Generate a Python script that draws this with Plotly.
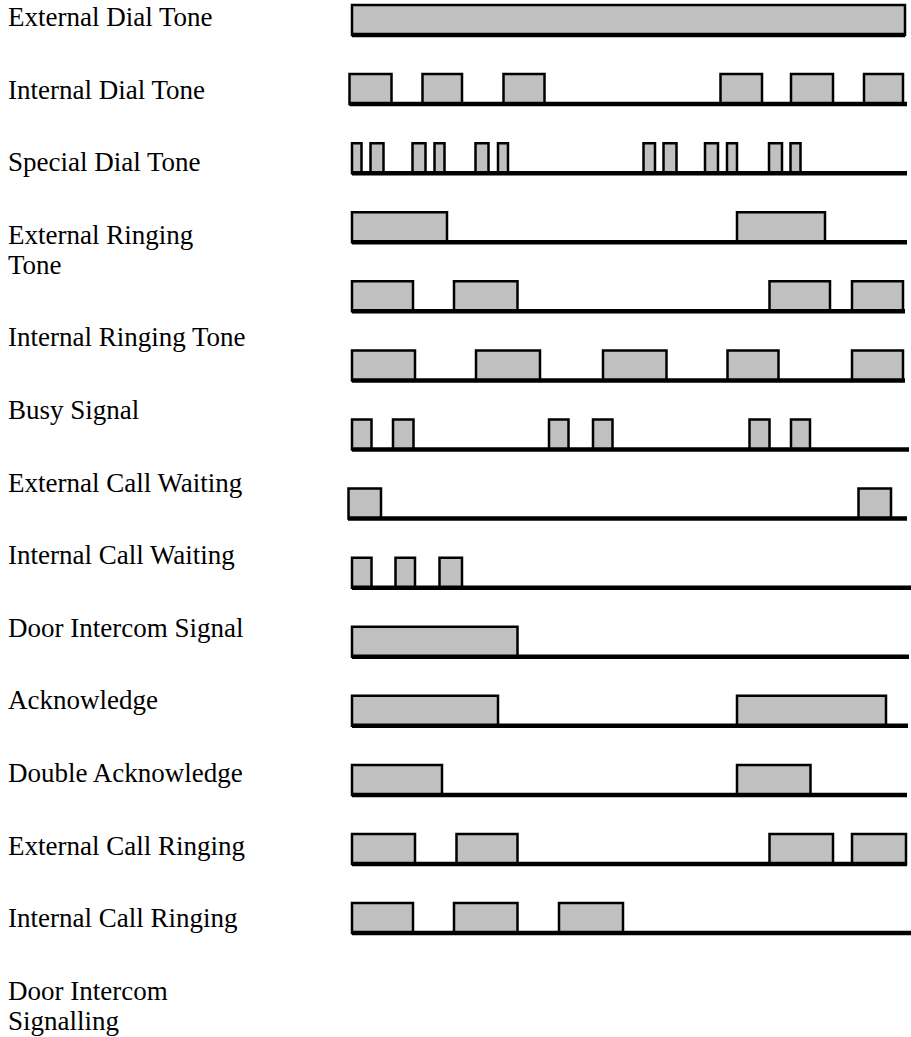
"""
Telephone signal tone cadence chart.
"""
import plotly.graph_objects as go

# tone names, one per row (top to bottom); "\n" marks a line break
labels = [
    "External Dial Tone",
    "Internal Dial Tone",
    "Special Dial Tone",
    "External Ringing\nTone",
    "Internal Ringing Tone",
    "Busy Signal",
    "External Call Waiting",
    "Internal Call Waiting",
    "Door Intercom Signal",
    "Acknowledge",
    "Double Acknowledge",
    "External Call Ringing",
    "Internal Call Ringing",
    "Door Intercom\nSignalling",
]

# tone-on intervals (start, end) for each row, in time units
pulses = [
    [(0, 553)],
    [(-2.5, 39.5), (70.5, 110), (151.5, 192.5), (368.5, 410), (439, 481), (512, 551)],
    [(0, 9.5), (18.5, 31.5), (60.5, 73.5), (82.5, 92.5), (123.5, 136.5), (146, 156),
     (291.5, 303), (311.5, 324.5), (353, 366), (375, 385), (417, 430), (438.5, 448.5)],
    [(0, 95), (385, 473)],
    [(0, 61), (102, 165.5), (417.5, 478), (500, 551)],
    [(0, 63), (124, 188), (251, 314.5), (375.5, 426.5), (500, 551)],
    [(0, 19.5), (41, 61.5), (197, 216.5), (241, 260.5), (397.5, 417.5), (439, 458)],
    [(-3.5, 29), (506.5, 539)],
    [(0, 19.5), (43.5, 63), (87.5, 110)],
    [(0, 165.5)],
    [(0, 146), (385, 534)],
    [(0, 90), (385, 458.5)],
    [(0, 63), (104.5, 165.5), (417.5, 481), (500, 554)],
    [(0, 61), (102, 165.5), (207, 271)],
]

# extent of the time line drawn under each row
timeline = [
    (0, 553), (-2.5, 555), (0, 555), (0, 555), (0, 553), (0, 553), (0, 557),
    (-4, 555), (0, 559), (0, 557), (0, 556), (0, 555), (0, 555), (0, 559),
]

W, H = 911, 1037
X0 = 352        # pixel of time 0
Y0 = 35         # pixel of first row's time line
ROW = 69.08     # pixels between rows
PULSE_H = 0.434

fig = go.Figure()

bar_y, bar_base, bar_len = [], [], []
for row, segs in enumerate(pulses):
    for start, end in segs:
        bar_y.append(row)
        bar_base.append(start)
        bar_len.append(end - start)

fig.add_trace(go.Bar(
    orientation="h",
    y=bar_y,
    base=bar_base,
    x=bar_len,
    width=PULSE_H,
    offset=-PULSE_H,
    marker=dict(color="#c0c0c0", line=dict(color="black", width=2.5)),
    hoverinfo="skip",
    showlegend=False,
))

line_x, line_y = [], []
for row, (start, end) in enumerate(timeline):
    line_x += [start, end, None]
    line_y += [row, row, None]

fig.add_trace(go.Scatter(
    x=line_x,
    y=line_y,
    mode="lines",
    line=dict(color="black", width=4.5),
    hoverinfo="skip",
    showlegend=False,
))

# text labels on the left, laid out like a text column
annotations = []
top, pitch, line_gap = 17, 72.6, 30
extra = 0
for k, name in enumerate(labels):
    for j, part in enumerate(name.split("\n")):
        y_px = top + pitch * k + line_gap * (extra + j)
        annotations.append(dict(
            text=part, xref="paper", yref="paper",
            x=6 / W, y=1 - y_px / H,
            xanchor="left", yanchor="middle", showarrow=False,
            font=dict(family="Liberation Serif", size=27, color="black"),
        ))
    extra += name.count("\n")

fig.update_layout(
    width=W,
    height=H,
    margin=dict(l=0, r=0, t=0, b=0),
    paper_bgcolor="white",
    plot_bgcolor="white",
    barmode="overlay",
    annotations=annotations,
    xaxis=dict(range=[-X0, W - X0], visible=False, fixedrange=True),
    yaxis=dict(range=[(H - Y0) / ROW, -Y0 / ROW], visible=False, fixedrange=True),
)

fig.write_html(
    "out.html",
    config={"displayModeBar": False},
    post_script="document.body.style.margin = '0';",
)
